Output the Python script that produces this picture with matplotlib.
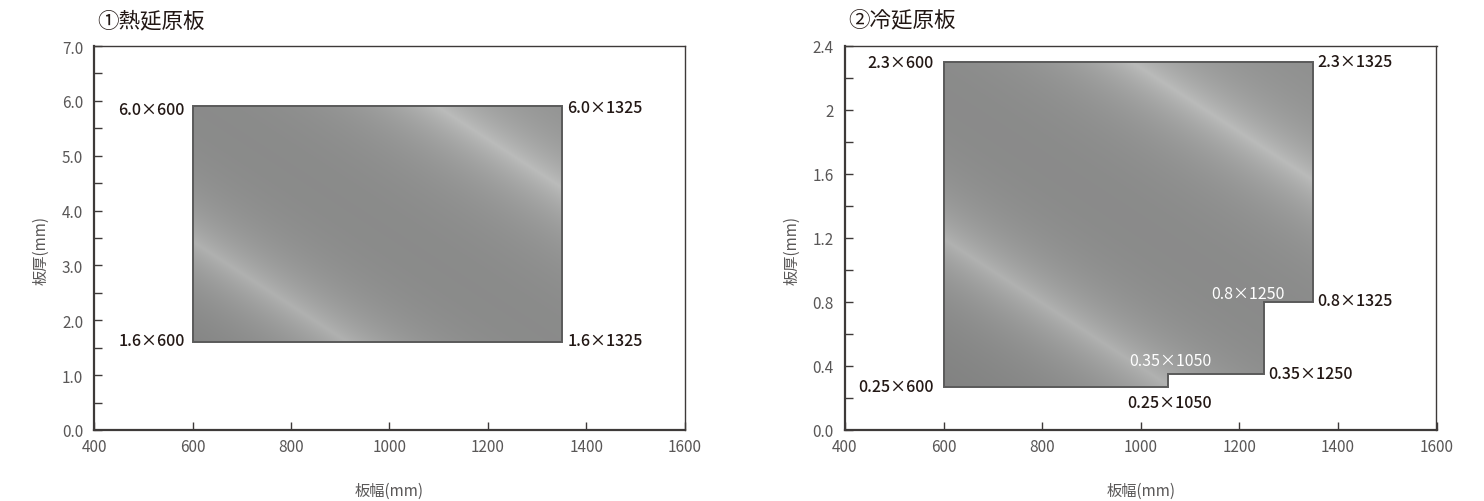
import numpy as np
import matplotlib
matplotlib.use("Agg")
import matplotlib.pyplot as plt
from matplotlib.patches import Polygon
from matplotlib.ticker import MultipleLocator, FixedLocator, FixedFormatter
from matplotlib.transforms import offset_copy

plt.rcParams['font.family'] = ['Noto Sans CJK JP', 'DejaVu Sans']

# ---------------- data ----------------
hot_title = "①熱延原板"
cold_title = "②冷延原板"
x_label = "板幅(mm)"
y_label = "板厚(mm)"

x_ticks = [400, 600, 800, 1000, 1200, 1400, 1600]
hot_y_ticks = [0.0, 1.0, 2.0, 3.0, 4.0, 5.0, 6.0, 7.0]
hot_y_ticklabels = ["0.0", "1.0", "2.0", "3.0", "4.0", "5.0", "6.0", "7.0"]
cold_y_ticks = [0.0, 0.4, 0.8, 1.2, 1.6, 2.0, 2.4]
cold_y_ticklabels = ["0.0", "0.4", "0.8", "1.2", "1.6", "2", "2.4"]

# polygon vertices (width mm, thickness mm) as drawn
hot_width = [600, 1350, 1350, 600]
hot_thick = [1.6, 1.6, 5.9, 5.9]
hot_labels = ["1.6×600", "1.6×1325", "6.0×1325", "6.0×600"]

cold_width = [600, 1055, 1055, 1250, 1250, 1350, 1350, 600]
cold_thick = [0.27, 0.27, 0.35, 0.35, 0.8, 0.8, 2.3, 2.3]
cold_labels = ["0.25×600", "0.25×1050", "0.35×1050", "0.35×1250",
               "0.8×1250", "0.8×1325", "2.3×1325", "2.3×600"]

# ---------------- styles ----------------
# per-label placement: (ha, dx_px, dy_px, color)
hot_label_style = [("right", -8, 2, "#231815"), ("left", 6, 2, "#231815"),
                   ("left", 6, -1, "#231815"), ("right", -8, -3, "#231815")]
cold_label_style = [("right", -10, 0, "#231815"), ("center", 2, -16, "#231815"),
                    ("center", 2.5, 13, "white"), ("left", 4, 0, "#231815"),
                    ("right", 21, 8.5, "white"), ("left", 4, 1, "#231815"),
                    ("left", 4, 0, "#231815"), ("right", -10, -1, "#231815")]

SPINE = "#3e3a39"
TICKLBL = "#595757"

W, H = 1484, 502
fig = plt.figure(figsize=(W / 100, H / 100), dpi=100)

def axpos(x0, x1, ytop, ybot):
    return [x0 / W, 1 - ybot / H, (x1 - x0) / W, (ybot - ytop) / H]

ax1 = fig.add_axes(axpos(94.3, 684.5, 47, 431))
ax2 = fig.add_axes(axpos(845, 1436.5, 46.5, 431))


def metal_fill(ax, xs, ys, fr_up, fr_low):
    verts = np.column_stack([xs, ys])
    poly = Polygon(verts, closed=True, facecolor="none", edgecolor="#5a5a5a",
                   lw=1.4, zorder=3)
    clip = Polygon(verts, closed=True, facecolor="none", edgecolor="none",
                   transform=ax.transData)
    ax.add_patch(clip)
    x0, x1 = min(xs), max(xs)
    y0, y1 = min(ys), max(ys)
    p0 = ax.transData.transform((x0, y0))
    p1 = ax.transData.transform((x1, y1))
    nx = int(abs(p1[0] - p0[0])) + 2
    ny = int(abs(p1[1] - p0[1])) + 2
    px = np.linspace(p0[0], p1[0], nx)
    py = np.linspace(p1[1], p0[1], ny)  # top row first
    PX, PY = np.meshgrid(px, py)
    cx, cy = (p0[0] + p1[0]) / 2, (p0[1] + p1[1]) / 2
    k = 0.65
    nrm = np.hypot(k, 1)
    s = ((PX - cx) * k + (PY - cy)) / nrm
    ext = ((p1[0] - p0[0]) * k + (p1[1] - p0[1])) / nrm / 2
    s_up = fr_up * ext
    s_low = fr_low * ext
    w = 38.0
    v = (0.525
         + 0.19 * np.exp(-np.abs(s - s_up) / w)
         + 0.18 * np.exp(-np.abs(s - s_low) / (w * 1.1))
         + 0.025 * np.clip(s / ext, -1, 1))
    v = np.clip(v, 0, 1)
    rgb = np.dstack([v, v * 1.005, v])
    rgb = np.clip(rgb, 0, 1)
    im = ax.imshow(rgb, extent=(x0, x1, y0, y1), aspect="auto",
                   interpolation="bilinear", zorder=1)
    im.set_clip_path(clip)
    ax.add_patch(poly)


def style_axes(ax, yticks, yticklabels, yminor, ymax):
    ax.set_xlim(400, 1600)
    ax.set_ylim(0, ymax)
    ax.xaxis.set_major_locator(FixedLocator(x_ticks))
    ax.set_xticklabels([str(t) for t in x_ticks])
    ax.yaxis.set_major_locator(FixedLocator(yticks))
    ax.yaxis.set_major_formatter(FixedFormatter(yticklabels))
    ax.yaxis.set_minor_locator(MultipleLocator(yminor))
    ax.tick_params(axis="both", which="both", direction="in", color=SPINE,
                   width=1.0, labelcolor=TICKLBL, labelsize=11)
    ax.tick_params(axis="both", which="major", length=6)
    ax.tick_params(axis="y", which="minor", length=6)
    ax.tick_params(axis="y", pad=8)
    ax.tick_params(axis="x", pad=6)
    ax.tick_params(top=False, right=False, which="both")
    for side in ["left", "bottom"]:
        ax.spines[side].set_color(SPINE)
        ax.spines[side].set_linewidth(1.6)
    for side in ["top", "right"]:
        ax.spines[side].set_color(SPINE)
        ax.spines[side].set_linewidth(1.0)
    ax.set_xlabel(x_label, fontsize=11, color=TICKLBL, va="center")
    ax.xaxis.set_label_coords(0.5, -60 / 384)
    ax.set_ylabel(y_label, fontsize=11, color=TICKLBL, va="center")
    ax.yaxis.set_label_coords(-53 / 590, 0.47)


def add_labels(ax, xs, ys, labels, styles):
    for x, y, t, (ha, dx, dy, col) in zip(xs, ys, labels, styles):
        tr = offset_copy(ax.transData, fig=fig, x=dx, y=dy, units="dots")
        ax.text(x, y, t, transform=tr, ha=ha, va="center", fontsize=11.5,
                color=col, fontweight="medium" if col != "white" else "normal",
                zorder=5)


style_axes(ax1, hot_y_ticks, hot_y_ticklabels, 0.5, 7.0)
style_axes(ax2, cold_y_ticks, cold_y_ticklabels, 0.2, 2.4)

metal_fill(ax1, hot_width, hot_thick, 0.66, -0.58)
metal_fill(ax2, cold_width, cold_thick, 0.58, -0.48)
ax1.set_xlim(400, 1600); ax1.set_ylim(0, 7.0)
ax2.set_xlim(400, 1600); ax2.set_ylim(0, 2.4)

add_labels(ax1, hot_width, hot_thick, hot_labels, hot_label_style)
add_labels(ax2, cold_width, cold_thick, cold_labels, cold_label_style)

for ax, title in [(ax1, hot_title), (ax2, cold_title)]:
    ax.text(0.005, 1 + 26 / 384, title, transform=ax.transAxes, ha="left",
            va="center", fontsize=15.5, color="#231815")

fig.savefig("out.png", dpi=100, facecolor="white")
